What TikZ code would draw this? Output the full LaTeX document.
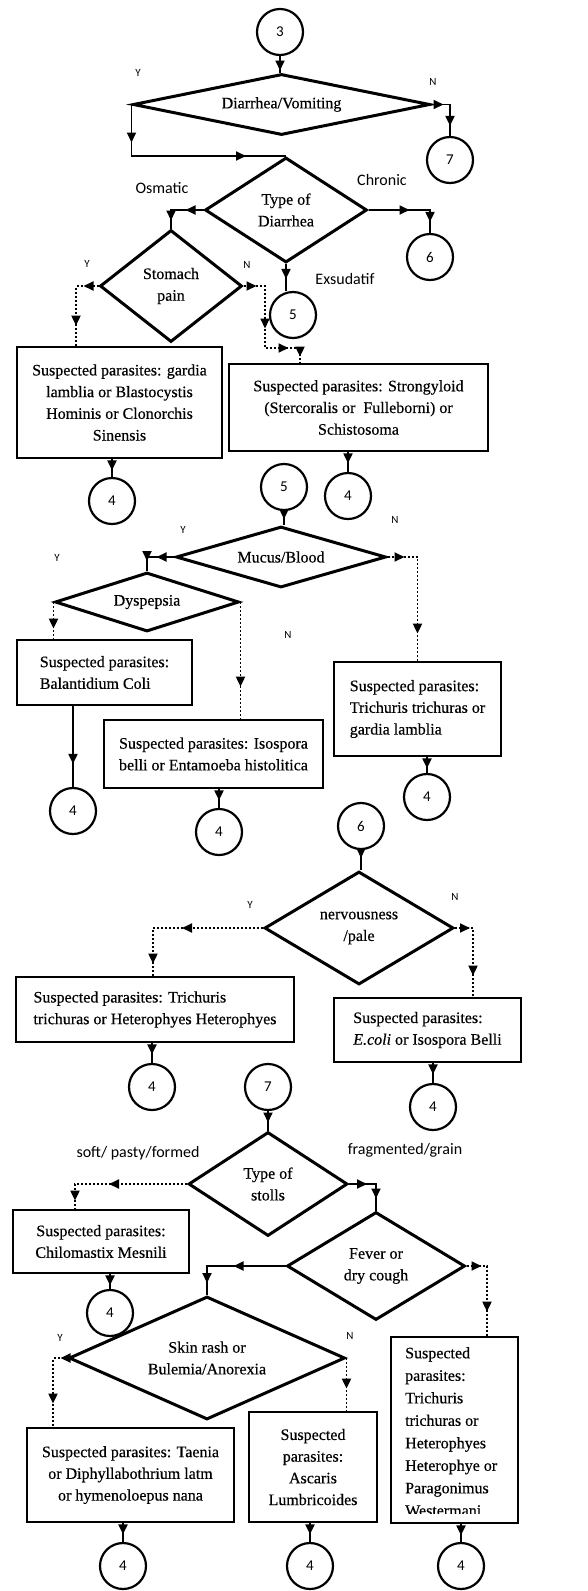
\documentclass[tikz,border=0pt]{standalone}
\usepackage{fontspec}
\setmainfont{Liberation Serif}[FakeBold=0.4]
\newfontfamily\sanslbl{Carlito}
\usetikzlibrary{shapes.geometric,arrows.meta,decorations.markings}
\tikzset{
  txt/.style={font=\fontsize{16}{21.7}\selectfont},
  circ/.style={circle,draw,line width=2.2pt,minimum size=46pt,inner sep=0pt,font=\sanslbl\fontsize{15}{18}\selectfont},
  dia/.style={diamond,draw,line width=3pt,inner sep=0pt,align=center,txt},
  pbox/.style={rectangle,draw,line width=2.8pt,inner sep=0pt,align=center,txt},
  conn/.style={line width=1.9pt},
  dconn/.style={line width=1.9pt,dash pattern=on 2pt off 2pt},
  ah/.style={postaction={decorate,decoration={markings,mark=at position #1 with {\arrow{Triangle[length=10pt,width=9pt]}}}}},
  yn/.style={font=\sanslbl\fontsize{11}{13}\selectfont},
  lbl/.style={font=\sanslbl\fontsize{16}{19}\selectfont},
}
\begin{document}
\begin{tikzpicture}[x=1pt,y=-1pt]
\fill[white] (0,0) rectangle (588,1591);
\useasboundingbox (0,0) rectangle (588,1591);

% ---------- nodes ----------
\node[circ] (c3) at (280,32) {3};
\node[dia,minimum width=297pt,minimum height=61pt,shape aspect=4.87] (dDV) at (281.5,104.5) {Diarrhea/Vomiting};
\node[circ] (c7a) at (450,160) {7};
\node[dia,minimum width=162pt,minimum height=105pt,shape aspect=1.54] (dType) at (286,210) {Type of\\Diarrhea};
\node[circ] (c6a) at (430,257) {6};
\node[dia,minimum width=142pt,minimum height=112pt,shape aspect=1.27] (dStom) at (171,286) {Stomach\\pain};
\node[circ] (c5a) at (293,315) {5};
\node[pbox,minimum width=205pt,minimum height=111pt] (bGardia) at (119.5,402.5) {Suspected parasites: gardia\\lamblia or Blastocystis\\Hominis or Clonorchis\\Sinensis};
\node[pbox,minimum width=259pt,minimum height=87pt] (bStrong) at (358.5,407.5) {Suspected parasites: Strongyloid\\(Stercoralis or\ \ Fulleborni) or\\Schistosoma};
\node[circ] (c4a) at (112,501) {4};
\node[circ] (c5b) at (284,487) {5};
\node[circ] (c4b) at (348,496) {4};

\node[dia,minimum width=210pt,minimum height=61pt,shape aspect=3.44] (dMucus) at (281,557) {Mucus/Blood};
\node[dia,minimum width=184pt,minimum height=59pt,shape aspect=3.12] (dDysp) at (147,602) {Dyspepsia};
\node[pbox,minimum width=175pt,minimum height=65pt,align=left] (bBalan) at (104.5,672.5) {Suspected parasites:\\Balantidium Coli};
\node[pbox,minimum width=219pt,minimum height=68pt] (bIsos) at (213.5,754) {Suspected parasites: Isospora\\belli or Entamoeba histolitica};
\node[pbox,minimum width=167pt,minimum height=94pt,align=left] (bTrich) at (417.5,709) {Suspected parasites:\\Trichuris trichuras or\\gardia lamblia};
\node[circ] (c4c) at (73,811) {4};
\node[circ] (c4d) at (219,832) {4};
\node[circ] (c4e) at (427,797) {4};
\node[circ] (c6b) at (361,826) {6};

\node[dia,minimum width=189pt,minimum height=113pt,shape aspect=1.67] (dNerv) at (359,928) {nervousness\\/pale};
\node[pbox,minimum width=278pt,minimum height=65pt,align=left] (bTrHet) at (155,1009.5) {Suspected parasites: Trichuris\\trichuras or Heterophyes Heterophyes};
\node[pbox,minimum width=187pt,minimum height=64pt,align=left] (bEcoli) at (427.5,1030) {Suspected parasites:\\\textit{E.coli} or Isospora Belli};
\node[circ] (c4f) at (152,1087) {4};
\node[circ] (c4g) at (433,1107) {4};
\node[circ] (c7b) at (268,1087) {7};

\node[dia,minimum width=159pt,minimum height=104pt,shape aspect=1.53] (dStool) at (268,1184) {Type of\\stolls};
\node[pbox,minimum width=176pt,minimum height=63pt] (bChilo) at (101,1241.5) {Suspected parasites:\\Chilomastix Mesnili};
\node[dia,minimum width=178pt,minimum height=108pt,shape aspect=1.65] (dFever) at (376,1266) {Fever or\\dry cough};
\node[circ] (c4h) at (110,1313) {4};
\node[dia,minimum width=276pt,minimum height=123pt,shape aspect=2.24] (dSkin) at (207,1358) {Skin rash or\\Bulemia/Anorexia};
\node[pbox,minimum width=207pt,minimum height=94pt] (bTaenia) at (130.5,1475) {Suspected parasites: Taenia\\or Diphyllabothrium latm\\or hymenoloepus nana};
\node[pbox,minimum width=128pt,minimum height=110pt] (bAscaris) at (313,1467) {Suspected\\parasites:\\Ascaris\\Lumbricoides};
\begin{scope}
\clip (392.5,1338.5) rectangle (516.5,1513);
\node[align=left,anchor=north west,inner sep=0pt,font=\fontsize{16}{22.5}\selectfont] (tTrich2) at (405,1347) {Suspected\\parasites:\\Trichuris\\trichuras or\\Heterophyes\\Heterophye or\\Paragonimus\\Westermani};
\end{scope}
\node[pbox,minimum width=127pt,minimum height=186pt] (bTrich2) at (454.5,1430) {};
\node[circ] (c4i) at (123,1566) {4};
\node[circ] (c4j) at (310,1566) {4};
\node[circ] (c4k) at (461,1566) {4};

% ---------- labels ----------
\node[yn] (yDV) at (138,73) {Y};
\node[yn] (nDV) at (433,82) {N};
\node[lbl] (lOsm) at (162,188) {Osmatic};
\node[lbl] (lChr) at (382,180) {Chronic};
\node[yn] (yStom) at (87,264) {Y};
\node[yn] (nStom) at (247,265) {N};
\node[lbl] (lExs) at (345,279) {Exsudatif};
\node[yn] (yMuc) at (183,530) {Y};
\node[yn] (nMuc) at (395,520) {N};
\node[yn] (yDys) at (57,558) {Y};
\node[yn] (nDys) at (288,635) {N};
\node[yn] (yNer) at (250,905) {Y};
\node[yn] (nNer) at (455,897) {N};
\node[lbl] (lSoft) at (138,1153) {soft/ pasty/formed};
\node[lbl] (lFrag) at (405,1150) {fragmented/grain};
\node[yn] (ySkin) at (60,1338) {Y};
\node[yn] (nSkin) at (350,1336) {N};

% ---------- guide coordinates ----------
\coordinate (gY1) at (76,0);
\coordinate (gN1) at (265,348);
\coordinate (gN2) at (300,0);
\coordinate (gNY) at (153,0);
\coordinate (gNN) at (473,0);
\coordinate (gSoft) at (75,0);
\coordinate (gFN) at (487,0);
\coordinate (gSY) at (53,0);

% ---------- connectors ----------
\draw[conn,ah=-2pt] (c3.south) -- (c3.south |- dDV.north);
\draw[conn,ah=12pt,ah=-10pt] (dDV.east) -| (c7a.north);
\draw[conn,ah=38pt,ah=-40pt] (dDV.west) |- (dType.north);
\draw[conn,ah=18pt,ah=-8pt] (dType.west) -| (dStom.north);
\draw[conn,ah=41pt,ah=-11pt] (dType.east) -| (c6a.north);
\draw[conn,ah=-12pt] (dType.south) -- (dType.south |- c5a.north);
\draw[dconn,ah=15pt,ah=-20pt] (dStom.west) -- (dStom.west -| gY1) -- (gY1 |- bGardia.north);
\draw[dconn,ah=13pt,ah=64pt,ah=107pt,ah=-6pt] (dStom.east) -| (gN1) -| (gN2 |- bStrong.north);
\draw[conn,ah=11pt] (c4a.north |- bGardia.south) -- (c4a.north);
\draw[conn,ah=11pt] (c4b.north |- bStrong.south) -- (c4b.north);

\draw[conn,ah=8pt] (c5b.south) -- (c5b.south |- dMucus.north);
\draw[conn,ah=18pt,ah=-10pt] (dMucus.west) -| (dDysp.north);
\draw[dconn,ah=17pt,ah=-27pt] (dMucus.east) -| (bTrich.north);
\draw[dconn,ah=-10pt] (dDysp.west) -- (dDysp.west |- bBalan.north);
\draw[dconn,ah=-32pt] (dDysp.east) -- (dDysp.east |- bIsos.north);
\draw[conn,ah=-23pt] (c4c.north |- bBalan.south) -- (c4c.north);
\draw[conn,ah=11pt] (c4d.north |- bIsos.south) -- (c4d.north);
\draw[conn,ah=11pt] (c4e.north |- bTrich.south) -- (c4e.north);

\draw[conn,ah=-12pt] (c6b.south) -- (c6b.south |- dNerv.north);
\draw[dconn,ah=81pt,ah=-12pt] (dNerv.west) -| (gNY |- bTrHet.north);
\draw[dconn,ah=15pt,ah=-21pt] (dNerv.east) -| (gNN |- bEcoli.north);
\draw[conn,ah=11pt] (c4f.north |- bTrHet.south) -- (c4f.north);
\draw[conn,ah=11pt] (c4g.north |- bEcoli.south) -- (c4g.north);

\draw[conn,ah=-8pt] (c7b.south) -- (c7b.south |- dStool.north);
\draw[dconn,ah=78pt,ah=-8pt] (dStool.west) -| (gSoft |- bChilo.north);
\draw[conn,ah=18pt,ah=-12pt] (dStool.east) -| (dFever.north);
\draw[conn,ah=11pt] (c4h.north |- bChilo.south) -- (c4h.north);
\draw[conn,ah=52pt,ah=-12pt] (dFever.west) -| (dSkin.north);
\draw[dconn,ah=15pt,ah=-24pt] (dFever.east) -| (gFN |- bTrich2.north);
\draw[dconn,ah=7pt,ah=-23pt] (dSkin.west) -| (gSY |- bTaenia.north);
\draw[dconn,ah=-22pt] (dSkin.east) -- (dSkin.east |- bAscaris.north);
\draw[conn,ah=11pt] (c4i.north |- bTaenia.south) -- (c4i.north);
\draw[conn,ah=11pt] (c4j.north |- bAscaris.south) -- (c4j.north);
\draw[conn,ah=11pt] (c4k.north |- bTrich2.south) -- (c4k.north);
\end{tikzpicture}
\end{document}
